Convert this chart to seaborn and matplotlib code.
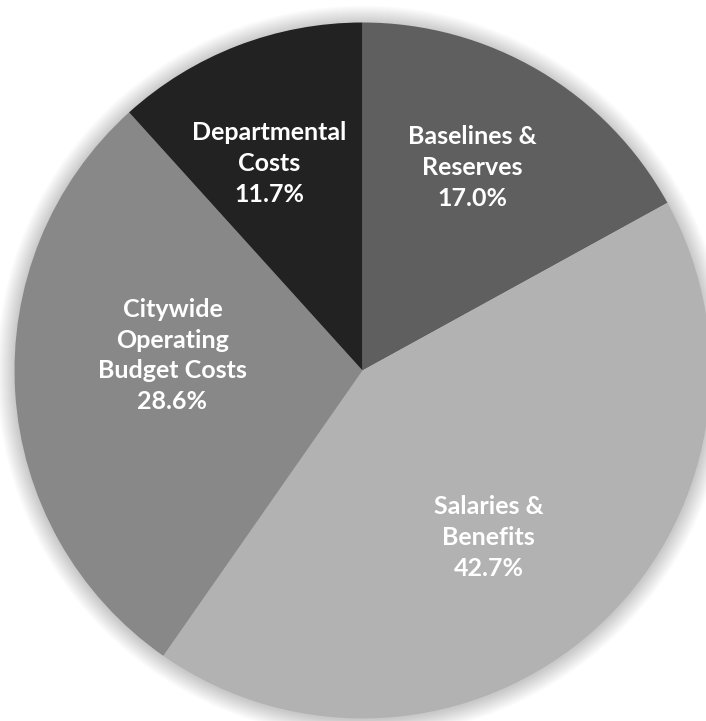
import numpy as np
import matplotlib
matplotlib.use("Agg")
import matplotlib.pyplot as plt
from matplotlib.patches import Circle
import seaborn as sns

# Budget share by category, clockwise from 12 o'clock
categories = ["Baselines &\nReserves", "Salaries &\nBenefits",
              "Citywide\nOperating\nBudget Costs", "Departmental\nCosts"]
shares = [17.0, 42.7, 28.6, 11.7]
colors = ["#5f5f5f", "#b2b2b2", "#888888", "#222222"]

sns.set_theme(style="white")
plt.rcParams["font.family"] = ["Lato", "DejaVu Sans"]

W, H = 706, 721
fig = plt.figure(figsize=(W / 100, H / 100), dpi=100)
ax = fig.add_axes([0, 0, 1, 1])

cx, cy, r = 362.5, H - 370.5, 348

# soft drop shadow behind the pie
for k in range(18):
    rad = r + 18 - k
    ax.add_patch(Circle((cx, cy - 1), rad, color="#000000", alpha=0.013,
                        lw=0, zorder=0))

wedges, _ = ax.pie(shares, colors=colors, startangle=90, counterclock=False,
                   radius=r, center=(cx, cy), frame=True,
                   wedgeprops=dict(linewidth=0))
ax.set_xlim(0, W)
ax.set_ylim(0, H)
ax.set_aspect("equal")
ax.axis("off")

# label anchor points (pixel offsets from the pie centre)
label_offsets = [(110, 203), (126, -167), (-190, 15), (-93, 207)]
for name, val, (dx, dy) in zip(categories, shares, label_offsets):
    ax.text(cx + dx, cy + dy, f"{name}\n{val:.1f}%", ha="center", va="center",
            color="white", fontsize=18, fontweight="bold",
            linespacing=1.42, zorder=5)

fig.savefig("out.png", dpi=100, facecolor="white")
